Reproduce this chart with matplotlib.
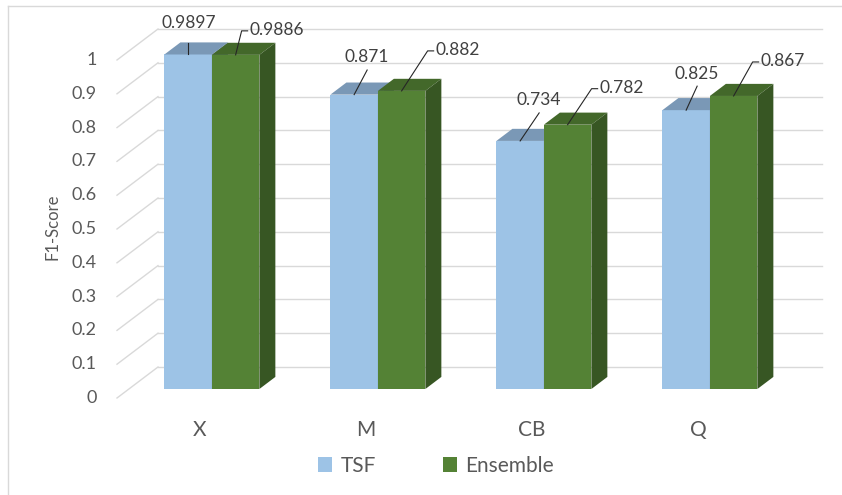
import numpy as np
import matplotlib
matplotlib.use("Agg")
import matplotlib.pyplot as plt
from matplotlib.patches import Polygon, Patch
from matplotlib.lines import Line2D

plt.rcParams['font.family'] = ['Lato', 'DejaVu Sans']

# data
categories = ['X', 'M', 'CB', 'Q']
series_names = ['TSF', 'Ensemble']
tsf = [0.9897, 0.871, 0.734, 0.825]
ensemble = [0.9886, 0.882, 0.782, 0.867]
y_ticks = [0, 0.1, 0.2, 0.3, 0.4, 0.5, 0.6, 0.7, 0.8, 0.9, 1.0]
y_tick_labels = ['0', '0.1', '0.2', '0.3', '0.4', '0.5', '0.6', '0.7', '0.8', '0.9', '1']

# colours (front, top, side)
colors = {
    'TSF': ('#9DC3E6', '#7A98B6', '#6A86A2'),
    'Ensemble': ('#548235', '#43682A', '#375623'),
}
grid_color = '#D9D9D9'
text_color = '#595959'
label_color = '#404040'

# pixel geometry of the fake 3D box
W, H = 842, 495
X0, SLOT = 117, 166      # front plane left edge, width of one category slot
Y0, UNIT = 398, 338      # front plane y of value 0, pixels per 1.0
DX = 41 / SLOT           # full depth in data units
DY = 31 / UNIT
F0, F1 = 0.29, 0.68      # bar front / back depth fractions
BW = 0.286               # bar width in slot units
PX = 1 / SLOT
PY = 1 / UNIT

fig = plt.figure(figsize=(W / 100, H / 100), dpi=100)
ax = fig.add_axes([0, 0, 1, 1])
ax.set_xlim(-X0 / SLOT, (W - X0) / SLOT)
ax.set_ylim(-(H - Y0) / UNIT, Y0 / UNIT)
ax.axis('off')

n = len(categories)

# walls: left wall diagonals + back wall gridlines
for v in y_ticks:
    ax.plot([0, DX], [v, v + DY], color=grid_color, lw=1, zorder=1)
    ax.plot([DX, n + DX], [v + DY, v + DY], color=grid_color, lw=1, zorder=1)

# y tick labels
for v, lab in zip(y_ticks, y_tick_labels):
    ax.text(-20 * PX, v, lab, ha='right', va='center', fontsize=13, color=text_color)

ax.text(-64 * PX, 0.506, 'F1-Score', rotation=90, ha='center', va='center',
        fontsize=12, color=text_color)

# category labels
for i, c in enumerate(categories):
    ax.text(i + 0.5, -32 * PY, c, ha='center', va='center', fontsize=15, color=text_color)

# bars
b = F0 * DY
ddx, ddy = (F1 - F0) * DX, (F1 - F0) * DY
tops = {}
for i in range(n):
    for s, (name, vals) in enumerate(zip(series_names, [tsf, ensemble])):
        front, topc, side = colors[name]
        xl = i + 0.5 - BW + s * BW + F0 * DX
        xr = xl + BW
        v = vals[i]
        ax.bar(xl, v, width=BW, bottom=b, align='edge', color=front, lw=0, zorder=3)
        ax.add_patch(Polygon([(xl, v + b), (xr, v + b), (xr + ddx, v + b + ddy), (xl + ddx, v + b + ddy)],
                             closed=True, facecolor=topc, lw=0, zorder=3))
        ax.add_patch(Polygon([(xr, b), (xr, v + b), (xr + ddx, v + b + ddy), (xr + ddx, b + ddy)],
                             closed=True, facecolor=side, lw=0, zorder=3))
        tops[(name, i)] = ((xl + xr) / 2, v + b)

# data labels with leader lines (offsets in pixels)
tsf_text_off = [(1, 31.5), (13, 37.6), (19, 41), (11, 36)]
tsf_lead_off = [(0, 11.5), (13, 24.6), (19, 28), (11, 24)]
ens_elbow_off = [(6, 24), (26, 40), (24, 36), (19, 34)]

for i in range(n):
    x, y = tops[('TSF', i)]
    tx, ty = tsf_text_off[i]
    lx, ly = tsf_lead_off[i]
    ax.plot([x, x + lx * PX], [y, y + ly * PY], color='#262626', lw=0.8, zorder=4)
    ax.text(x + tx * PX, y + ty * PY, f'{tsf[i]:g}', ha='center', va='center',
            fontsize=12.5, color=label_color, zorder=4)

    x, y = tops[('Ensemble', i)]
    ex, ey = ens_elbow_off[i]
    ax.plot([x, x + ex * PX, x + (ex + 6) * PX], [y, y + ey * PY, y + ey * PY],
            color='#262626', lw=0.8, zorder=4)
    ax.text(x + (ex + 8) * PX, y + (ey + 1) * PY, f'{ensemble[i]:g}', ha='left', va='center',
            fontsize=12.5, color=label_color, zorder=4)

# legend
handles = [Patch(facecolor=colors[nm][0], edgecolor='none') for nm in series_names]
leg = fig.legend(handles, series_names, loc='center', bbox_to_anchor=(436 / W, 1 - 466 / H),
                 ncol=2, frameon=False, fontsize=15, handlelength=0.7, handleheight=0.7,
                 handletextpad=0.4, columnspacing=3.2)
for t in leg.get_texts():
    t.set_color(text_color)

# chart area border (left and top only visible)
fig.add_artist(Line2D([8 / W, 8 / W], [0, 1 - 6 / H], color=grid_color, lw=1))
fig.add_artist(Line2D([8 / W, 1], [1 - 6 / H, 1 - 6 / H], color=grid_color, lw=1))

plt.savefig('out.png', dpi=100)
